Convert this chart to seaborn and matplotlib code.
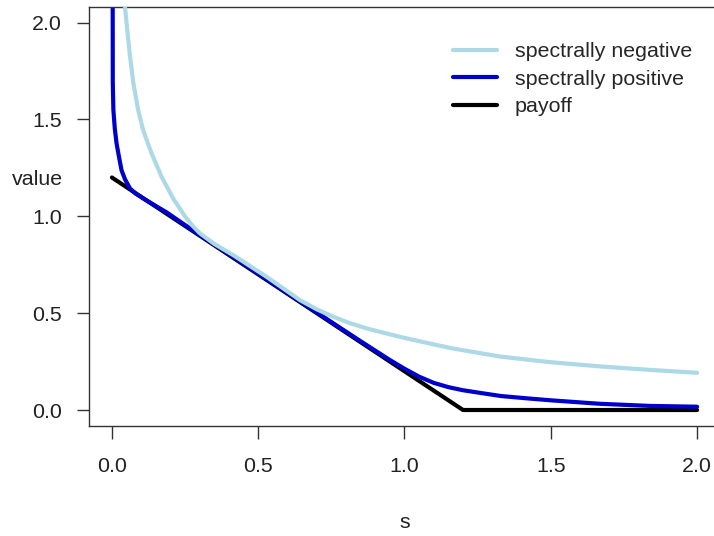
import numpy as np
import pandas as pd
import seaborn as sns
import matplotlib.pyplot as plt

# valores
s_neg = [0.030, 0.044, 0.060, 0.073, 0.090, 0.107, 0.136, 0.170, 0.210, 0.250, 0.275, 0.300,
         0.350, 0.415, 0.529, 0.643, 0.700, 0.757, 0.810, 0.871, 0.930, 1.000, 1.156, 1.326,
         1.497, 1.668, 1.840, 2.000]
v_neg = [2.40, 2.09, 1.85, 1.69, 1.546, 1.443, 1.323, 1.203, 1.090, 0.999, 0.952, 0.913,
         0.857, 0.799, 0.687, 0.567, 0.520, 0.481, 0.450, 0.421, 0.398, 0.372, 0.320, 0.276,
         0.247, 0.225, 0.207, 0.192]

s_pos = [0.002, 0.003, 0.005, 0.010, 0.016, 0.025, 0.033, 0.045, 0.062, 0.080, 0.107, 0.140,
         0.187, 0.267, 0.350, 0.450, 0.550, 0.650, 0.750, 0.850, 0.950, 1.000, 1.050, 1.100,
         1.150, 1.200, 1.260, 1.330, 1.420, 1.500, 1.668, 1.840, 2.000]
v_pos = [3.00, 1.69, 1.55, 1.45, 1.375, 1.300, 1.237, 1.190, 1.143, 1.118, 1.092, 1.062,
         1.020, 0.937, 0.854, 0.754, 0.654, 0.554, 0.454, 0.355, 0.258, 0.213, 0.172, 0.140,
         0.118, 0.102, 0.088, 0.072, 0.060, 0.050, 0.032, 0.021, 0.017]

s_pay = [0.0, 1.2, 2.0]
v_pay = [1.2, 0.0, 0.0]

labels = ["spectrally negative", "spectrally positive", "payoff"]
colors = ["#ADD8E6", "#0000CD", "black"]

sns.set_theme(style="ticks")
plt.rcParams['font.family'] = ['Liberation Sans', 'DejaVu Sans']

fig = plt.figure(figsize=(7.14, 5.36), dpi=100)
ax = fig.add_axes([88.5 / 714, 1 - 425.5 / 536, 632 / 714, 418.5 / 536])

series = [(s_neg, v_neg), (s_pos, v_pos), (s_pay, v_pay)]
for i, ((xs, ys), lab, col) in enumerate(zip(series, labels, colors)):
    df = pd.DataFrame({"s": xs, "value": ys})
    sns.lineplot(data=df, x="s", y="value", ax=ax, color=col, linewidth=3,
                 label=lab, zorder=3 - i, sort=False)

ax.set_xlim(-0.08, 2.08)
ax.set_ylim(-0.08, 2.08)
ax.set_xticks([0.0, 0.5, 1.0, 1.5, 2.0])
ax.set_yticks([0.0, 0.5, 1.0, 1.5, 2.0])
ax.set_xticklabels(["0.0", "0.5", "1.0", "1.5", "2.0"])
ax.set_yticklabels(["0.0", "0.5", "1.0", "1.5", "2.0"])

for sp in ax.spines.values():
    sp.set_color("#333333")
    sp.set_linewidth(1.0)
ax.tick_params(axis="both", length=9, width=1.0, color="#333333",
               labelsize=15.4, labelcolor="#222222")
ax.tick_params(axis="x", pad=14)
ax.tick_params(axis="y", pad=10)

ax.set_xlabel("s", fontsize=15.4, color="#222222", ha="center", va="center")
ax.set_ylabel("value", fontsize=15.4, color="#222222", rotation=0, ha="center", va="center")
ax.xaxis.set_label_coords(0.5008, -0.2306)
ax.yaxis.set_label_coords(-0.0807, 0.589)

ax.legend(loc="upper left", bbox_to_anchor=(453 / 714, 1 - 42 / 536),
          bbox_transform=fig.transFigure, frameon=False, fontsize=15.4,
          handlelength=2.05, handletextpad=0.84, labelspacing=0.40,
          borderpad=0, borderaxespad=0)

plt.savefig("out.png", dpi=100)
